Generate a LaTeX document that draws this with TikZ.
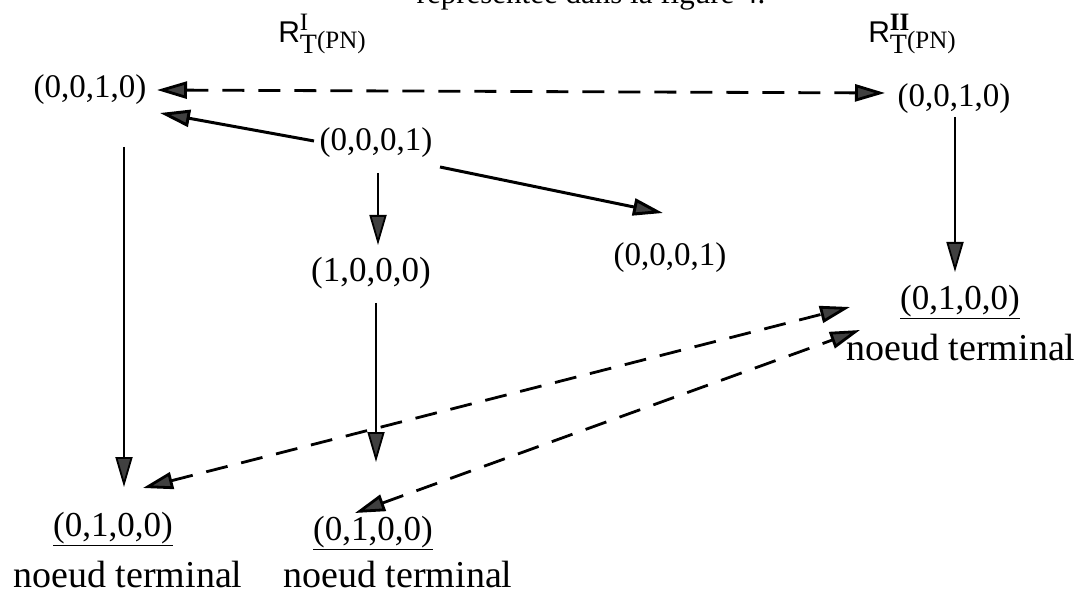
\documentclass[tikz,border=0pt]{standalone}
\usepackage{fontspec}
\setmainfont{Liberation Serif}
\setsansfont{Liberation Sans}
\usetikzlibrary{calc, arrows.meta, positioning}
\definecolor{gristete}{RGB}{64,64,64}

\tikzset{
    tete/.tip={Triangle[length=30pt, width=17pt, fill=gristete]},
    etat/.style={inner sep=1pt, font=\fontsize{33}{38}\selectfont},
    terminal/.style={inner sep=1pt, font=\fontsize{35}{40}\selectfont},
    legende/.style={inner sep=1pt, font=\fontsize{38}{44}\selectfont},
    fleche/.style={line width=3pt, -tete},
    verticale/.style={line width=1.8pt, -tete},
    tirets/.style={line width=2.8pt, dash pattern=on 22pt off 14pt, tete-tete}
}
\newcommand{\etiqR}[1]{\textsf{R}\rlap{\raisebox{12pt}{\fontsize{25}{28}\selectfont #1}}%
    \raisebox{-11pt}{\fontsize{28}{30}\selectfont T}\raisebox{-6pt}{\fontsize{25}{28}\selectfont(PN)}}

\begin{document}
\begin{tikzpicture}[x=1pt, y=-1pt]
    \useasboundingbox[fill=white] (0,0) rectangle (1077,596);
    % 1. Titres
    \node[legende, font=\fontsize{31}{36}\selectfont, anchor=base] (titre) at (591,4) {représentée dans la figure 4.};
    \node[inner sep=0pt, font=\fontsize{30}{34}\selectfont] (rI) at (322,34) {\etiqR{I}};
    \node[inner sep=0pt, font=\fontsize{30}{34}\selectfont] (rII) at (912,34) {\etiqR{\textbf{II}}};

    % 2. Etats
    \node[etat] (a) at (90,90) {(0,0,1,0)};
    \node[etat] (b) at (954,99) {(0,0,1,0)};
    \node[etat] (c) at (376,143) {(0,0,0,1)};
    \node[etat] (d) at (670,258) {(0,0,0,1)};
    \node[terminal] (e) at (371,273) {(1,0,0,0)};
    \node[terminal] (f) at (960,302) {\underline{(0,1,0,0)}};
    \node[legende] (ft) at (961,348) {noeud terminal};
    \node[terminal] (g) at (113,529) {\underline{(0,1,0,0)}};
    \node[legende] (gt) at (128,574) {noeud terminal};
    \node[terminal] (h) at (373,533) {\underline{(0,1,0,0)}};
    \node[legende] (ht) at (398,575) {noeud terminal};

    % 3. Fleches pleines
    \draw[fleche] ($(c)+(-62,-2)$) -- ($(a)+(70,23)$);
    \draw[fleche] ($(c)+(64,24)$) -- ($(d)+(-7,-45)$);
    \draw[verticale] ($(c)+(2,30)$) -- ($(e)+(7,-28)$);
    \draw[verticale] ($(e)+(5,30)$) -- ($(h)+(3,-71)$);
    \draw[verticale] ($(a)+(34,57)$) -- ($(g)+(11,-42)$);
    \draw[verticale] ($(b)+(1,18)$) -- ($(f)+(-5,-30)$);

    % 4. Fleches en tirets
    \draw[tirets] ($(a)+(67,0)$) -- ($(b)+(-69,-6)$);
    \draw[tirets] ($(g)+(30,-41)$) -- ($(f)+(-110,5)$);
    \draw[tirets] ($(h)+(-18,-20)$) -- ($(f)+(-100,28)$);
\end{tikzpicture}
\end{document}
